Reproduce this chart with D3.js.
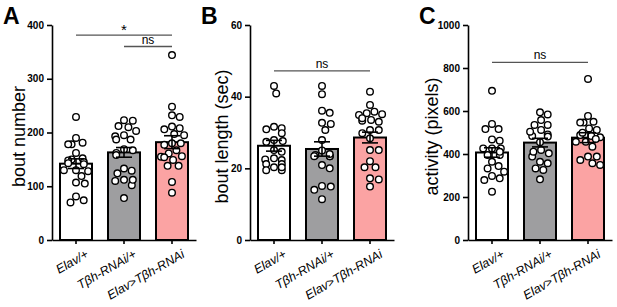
<!DOCTYPE html>
<html>
<head>
<meta charset="utf-8">
<script src="https://cdn.jsdelivr.net/npm/d3@7"></script>
<style>
  html, body { margin: 0; padding: 0; background: #fff; }
  svg { display: block; font-family: Arial, "Liberation Sans", Helvetica, sans-serif; }
  .axis path, .axis line { stroke: #000; stroke-width: 1.6px; }
  .axis text { font-size: 10px; font-weight: bold; fill: #000; }
</style>
</head>
<body>
<svg id="chart" width="617" height="307"></svg>
<script>
// ---- data ----
const groups = ['Elav/+', 'Tβh-RNAi/+', 'Elav>Tβh-RNAi'];

const boutNumber = [
  [229, 190, 181, 178, 178, 162, 152, 150, 148, 145, 143, 141, 130, 128, 130, 119, 107, 105, 81, 74, 70],
  [223, 212, 210, 222, 203, 193, 187, 187, 195, 169, 162, 158, 167, 133, 124, 129, 112, 110, 102, 112, 78],
  [344, 248, 229, 232, 208, 211, 197, 206, 195, 180, 177, 180, 167, 161, 155, 149, 154, 156, 138, 138, 108, 88]
];
const boutNumberMean = [142, 163, 182];
const boutNumberSem = [9, 9, 12];
const boutNumberTicks = [0, 100, 200, 300, 400];

const boutLength = [
  [43, 40.9, 31.6, 30.9, 31.2, 29.8, 27.4, 27.6, 27.9, 24.6, 25.1, 22.3, 22.5, 22.8, 21.2, 21.2, 20.3, 19.5, 19.5, 20.3],
  [43, 40.7, 35.5, 36.1, 32.4, 32.7, 30.7, 27.9, 23.4, 23.7, 23.4, 23.4, 20, 20.9, 14.9, 14, 15.1, 11.4, 25, 24],
  [41.4, 37.7, 35.4, 34.9, 35.1, 35.8, 33.5, 33, 33.3, 34, 30.7, 30.7, 29.8, 28.4, 25.1, 25.1, 22, 20.3, 20.3, 17.2, 16.9, 14.9]
];
const boutLengthMean = [26.3, 25.4, 28.6];
const boutLengthSem = [1.5, 2, 1.5];
const boutLengthTicks = [0, 20, 40, 60];

const activity = [
  [694, 516, 516, 540, 462, 468, 426, 426, 426, 395, 395, 364, 333, 344, 318, 287, 279, 298, 225, 410],
  [584, 558, 594, 535, 512, 535, 491, 484, 481, 504, 419, 403, 388, 411, 364, 333, 326, 357, 282, 455],
  [749, 577, 550, 546, 546, 512, 519, 478, 484, 488, 499, 457, 457, 434, 388, 388, 357, 349, 372, 470]
];
const activityMean = [407, 453, 476];
const activitySem = [22, 20, 23];
const activityTicks = [0, 200, 400, 600, 800, 1000];

const barColors = ['#ffffff', '#9e9ea0', '#fba3a3'];

// significance brackets: [from group, to group, bracket value, label]
const boutNumberSig = [[0, 2, 381, '*'], [1, 2, 360, 'ns']];
const boutLengthSig = [[0, 2, 47.2, 'ns']];
const activitySig = [[0, 2, 826, 'ns']];

// ---- layout ----
const svg = d3.select('#chart');
const Y0 = 240, Y1 = 25;
const R = 3.3;

const panels = [
  { letter: 'A', x0: 52, title: 'bout number', tOff: 33, max: 400, vals: boutNumber, mean: boutNumberMean, sem: boutNumberSem, ticks: boutNumberTicks, sig: boutNumberSig },
  { letter: 'B', x0: 250, title: 'bout length (sec)', tOff: 28, max: 60, vals: boutLength, mean: boutLengthMean, sem: boutLengthSem, ticks: boutLengthTicks, sig: boutLengthSig },
  { letter: 'C', x0: 468, title: 'activity (pixels)', tOff: 36, max: 1000, vals: activity, mean: activityMean, sem: activitySem, ticks: activityTicks, sig: activitySig }
];

// simple beeswarm so the open circles don't pile on top of each other
function swarm(values, y, half) {
  const placed = [];
  const order = values.map((v, i) => i).sort((a, b) => values[b] - values[a]);
  const out = new Array(values.length);
  const minD = 2 * R + 1.2;
  order.forEach(i => {
    const py = y(values[i]);
    let best = null;
    for (let k = 0; k < 60; k++) {
      const cand = (k % 2 ? 1 : -1) * Math.ceil(k / 2) * 1.1;
      if (Math.abs(cand) > half) continue;
      if (placed.every(p => Math.hypot(p[0] - cand, p[1] - py) >= minD)) { best = cand; break; }
    }
    if (best === null) best = (placed.length % 2 ? 1 : -1) * half * 0.6;
    placed.push([best, py]);
    out[i] = best;
  });
  return out;
}

panels.forEach(p => {
  const g = svg.append('g');
  const x = d3.scaleBand().domain(groups).range([p.x0, p.x0 + 144]).paddingInner(1 / 3).paddingOuter(1 / 6);
  const y = d3.scaleLinear().domain([0, p.max]).range([Y0, Y1]);
  const bw = x.bandwidth();

  // bars
  g.selectAll('.bar').data(groups).enter().append('rect')
    .attr('x', d => x(d)).attr('width', bw)
    .attr('y', (d, i) => y(p.mean[i])).attr('height', (d, i) => Y0 - y(p.mean[i]))
    .attr('fill', (d, i) => barColors[i]).attr('stroke', '#000').attr('stroke-width', 2);

  // points
  groups.forEach((grp, gi) => {
    const cx = x(grp) + bw / 2;
    const offs = swarm(p.vals[gi], y, bw / 2 - 3);
    g.selectAll('.pt' + gi).data(p.vals[gi]).enter().append('circle')
      .attr('cx', (d, i) => cx + offs[i]).attr('cy', d => y(d)).attr('r', R)
      .attr('fill', '#fff').attr('stroke', '#000').attr('stroke-width', 1.4);
  });

  // error bars (mean ± SEM)
  groups.forEach((grp, gi) => {
    const cx = x(grp) + bw / 2;
    const lo = y(p.mean[gi] - p.sem[gi]), hi = y(p.mean[gi] + p.sem[gi]);
    g.append('line').attr('x1', cx).attr('x2', cx).attr('y1', lo).attr('y2', hi)
      .attr('stroke', '#000').attr('stroke-width', 1.6);
    [lo, hi].forEach(yy => g.append('line').attr('x1', cx - 8).attr('x2', cx + 8).attr('y1', yy).attr('y2', yy)
      .attr('stroke', '#000').attr('stroke-width', 1.6));
  });

  // axes
  g.append('g').attr('class', 'axis').attr('transform', `translate(${p.x0},0)`)
    .call(d3.axisLeft(y).tickValues(p.ticks).tickFormat(d3.format('d')).tickSize(5).tickPadding(3).tickSizeOuter(0));
  g.append('g').attr('class', 'axis').attr('transform', `translate(0,${Y0})`)
    .call(d3.axisBottom(x).tickSize(4).tickSizeOuter(0).tickFormat(''));

  // rotated italic category labels
  g.selectAll('.xl').data(groups).enter().append('text')
    .attr('transform', d => `translate(${x(d) + bw / 2 + 9},${Y0 + 9}) rotate(-30)`)
    .attr('dy', '0.7em').attr('text-anchor', 'end')
    .style('font-size', '12.5px').style('font-style', 'italic').text(d => d);

  // y title
  g.append('text').attr('transform', `translate(${p.x0 - p.tOff},${(Y0 + Y1) / 2 + 4}) rotate(-90)`)
    .attr('text-anchor', 'middle').attr('dy', '0.35em')
    .style('font-size', '18px').text(p.title);

  // panel letter
  g.append('text').attr('x', p.x0 - 49).attr('y', 24)
    .style('font-size', '23px').style('font-weight', 'bold').text(p.letter);

  // significance brackets
  p.sig.forEach(s => {
    const xa1 = x(groups[s[0]]) + bw / 2, xa2 = x(groups[s[1]]) + bw / 2, yy = y(s[2]);
    g.append('line').attr('x1', xa1).attr('x2', xa2).attr('y1', yy).attr('y2', yy)
      .attr('stroke', '#555').attr('stroke-width', 1.3);
    g.append('text').attr('x', (xa1 + xa2) / 2).attr('y', yy - (s[3] === '*' ? 0 : 3))
      .attr('text-anchor', 'middle')
      .style('font-size', s[3] === '*' ? '15px' : '12px').text(s[3]);
  });
});
</script>
</body>
</html>
